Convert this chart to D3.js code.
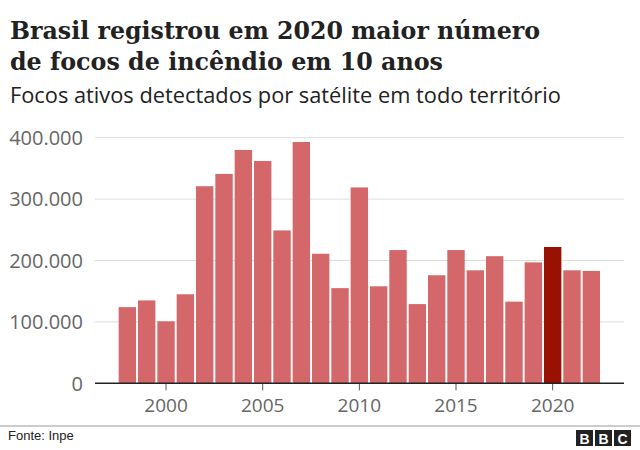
<!DOCTYPE html>
<html><head><meta charset="utf-8">
<script src="https://cdn.jsdelivr.net/npm/d3@7"></script>
<style>body{margin:0;background:#fff}svg{display:block}</style>
</head><body>
<svg id="c" width="640" height="450"></svg>
<script>
const years = [1998,1999,2000,2001,2002,2003,2004,2005,2006,2007,2008,2009,2010,2011,2012,2013,2014,2015,2016,2017,2018,2019,2020,2021,2022];
const focos = [124000,135000,101000,145000,321000,341000,380000,362000,249000,393000,211000,155000,319000,158000,217000,129000,176000,217000,184000,207000,133000,197000,222000,184000,183000];
const highlightYear = 2020;
const yTicks = [0,100000,200000,300000,400000];
const xTickYears = [2000,2005,2010,2015,2020];
const titleLines = ["Brasil registrou em 2020 maior número","de focos de incêndio em 10 anos"];
const subtitle = "Focos ativos detectados por satélite em todo território";
const source = "Fonte: Inpe";

const svg = d3.select("#c");
const x = d3.scaleBand().domain(years).range([117.7,601]).paddingInner(0.1).paddingOuter(0.05);
const y = d3.scaleLinear().domain([0,400000]).range([383.3,137.7]);
const loc = d3.formatLocale({decimal:",",thousands:".",grouping:[3],currency:["",""]});
const fmt = loc.format(",");

// titles
const titleWidths = [530,433];
svg.selectAll("text.title").data(titleLines).join("text")
  .attr("class","title").attr("x",10).attr("y",(d,i)=>38.5+i*31.5)
  .attr("font-family","DejaVu Serif").attr("font-weight","bold").attr("font-size",25)
  .attr("textLength",(d,i)=>titleWidths[i]).attr("lengthAdjust","spacingAndGlyphs")
  .attr("fill","#222").text(d=>d);
svg.append("text").attr("x",10).attr("y",102.5)
  .attr("font-family","Open Sans").attr("font-size",21.8).attr("fill","#222").text(subtitle);

// grid
const g = svg.append("g");
g.selectAll("line.grid").data(yTicks.filter(d=>d>0)).join("line")
  .attr("x1",95).attr("x2",624).attr("y1",d=>y(d)).attr("y2",d=>y(d))
  .attr("stroke","#dcdcdc").attr("stroke-width",1);
g.selectAll("text.ylab").data(yTicks).join("text")
  .attr("x",83).attr("y",d=>y(d)).attr("dy","0.36em").attr("text-anchor","end")
  .attr("font-family","Open Sans").attr("font-size",20).attr("fill","#666").text(d=>fmt(d));

// bars
g.selectAll("rect.bar").data(years).join("rect")
  .attr("x",d=>x(d)).attr("width",x.bandwidth())
  .attr("y",(d,i)=>y(focos[i])).attr("height",(d,i)=>y(0)-y(focos[i]))
  .attr("fill",d=>d===highlightYear?"#991100":"#d4676a");

// x axis
const xAxis = d3.axisBottom(x).tickValues(xTickYears).tickSize(7).tickSizeOuter(0).tickPadding(8);
const ax = svg.append("g").attr("transform",`translate(0,${y(0)})`).call(xAxis);
ax.select(".domain").remove();
ax.selectAll(".tick line").attr("stroke","#555");
ax.selectAll(".tick text").attr("font-family","Open Sans").attr("font-size",19).attr("fill","#666");
svg.append("line").attr("x1",95).attr("x2",624).attr("y1",y(0)).attr("y2",y(0)).attr("stroke","#222").attr("stroke-width",1.5);

// footer
svg.append("line").attr("x1",0).attr("x2",640).attr("y1",426).attr("y2",426).attr("stroke","#999").attr("stroke-width",1);
svg.append("text").attr("x",8).attr("y",440).attr("font-family","Liberation Sans").attr("font-size",13).attr("fill","#222").text(source);
const logo = svg.append("g").attr("transform","translate(576,430)");
["B","B","C"].forEach((l,i)=>{
  logo.append("rect").attr("x",i*19).attr("y",0).attr("width",17).attr("height",16).attr("fill","#222");
  logo.append("text").attr("x",i*19+8.5).attr("y",13.5).attr("text-anchor","middle")
    .attr("font-family","Liberation Sans").attr("font-weight","bold").attr("font-size",14).attr("fill","#fff").text(l);
});
</script>
</body></html>
